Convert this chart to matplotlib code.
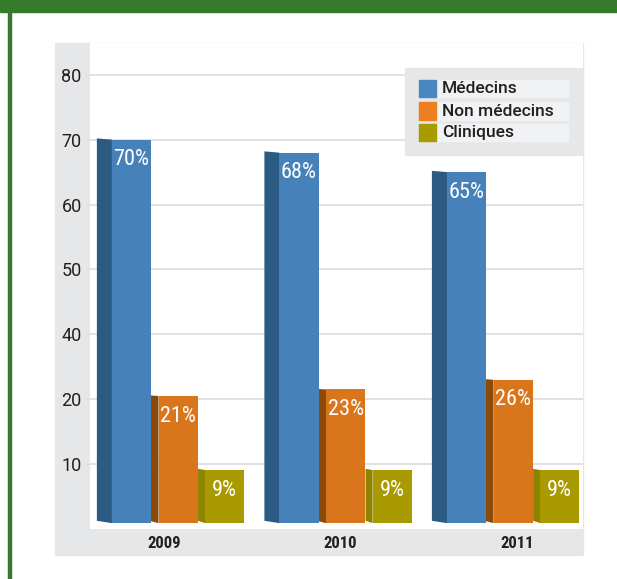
import numpy as np
import matplotlib
matplotlib.use("Agg")
import matplotlib.pyplot as plt
from matplotlib.patches import Rectangle, Polygon

years = ["2009", "2010", "2011"]
series = ["Médecins", "Non médecins", "Cliniques"]
medecins = [70, 68, 65]
non_medecins = [21, 23, 26]
cliniques = [9, 9, 9]
tick_values = [10, 20, 40, 50, 60, 70, 80]

front_colors = ["#4682b9", "#d9761c", "#a89a00"]
side_colors = ["#2b5b83", "#8c4a08", "#8f8400"]
legend_colors = ["#4a87c1", "#ec7f1f", "#a89b00"]
text_dark = "#231f20"
panel_gray = "#e6e7e9"
green = "#367a2c"

W, H = 617, 579
fig = plt.figure(figsize=(W / 100, H / 100), dpi=100)
fig.patch.set_facecolor("white")


def fx(px):
    return px / W


def fy(py):
    return 1 - py / H


# page decorations: green header and left rule, grey panel (behind the axes)
fig.patches.append(Rectangle((0, fy(12)), 1, 12 / H, transform=fig.transFigure,
                             color=green, zorder=-10))
fig.patches.append(Rectangle((fx(8), 0), 3 / W, fy(12), transform=fig.transFigure,
                             color=green, zorder=-10))
fig.patches.append(Rectangle((fx(55), fy(555)), (583 - 55) / W, (555 - 43) / H,
                             transform=fig.transFigure, color=panel_gray, zorder=-10))

ax = fig.add_axes([fx(90), fy(529), (583 - 90) / W, (529 - 43) / H])
ax.set_facecolor("white")

# the chart's own axis is uneven (no 30), so use a piecewise scale through the ticks
knot_vals = [-20, 0, 10, 20, 40, 50, 60, 70, 80, 100]
knot_pos = [-2.91, -0.91, 0, 1, 2, 3, 4, 5, 6, 8]


def fwd(v):
    return np.interp(v, knot_vals, knot_pos)


def inv(p):
    return np.interp(p, knot_pos, knot_vals)


ax.set_yscale("function", functions=(fwd, inv))
ax.set_ylim(-0.9, 84.9)
ax.set_xlim(-0.131, 2.812)

narrow = ["Roboto Condensed", "Roboto", "DejaVu Sans"]

ax.set_yticks(tick_values)
ax.set_yticklabels([str(v) for v in tick_values], family=["Roboto", "DejaVu Sans"])
ax.yaxis.grid(True, color="#dcdddf", linewidth=1.2, zorder=0)
ax.set_axisbelow(True)
for s in ax.spines.values():
    s.set_visible(False)
ax.tick_params(axis="y", length=3, color="#dcdddf", pad=3, labelsize=13,
               labelcolor=text_dark)

groups = np.arange(len(years))
step = 0.278
width = 0.234
sides = [0.09, 0.054, 0.042]
all_vals = [medecins, non_medecins, cliniques]

for j, vals in enumerate(all_vals):
    left = groups + j * step
    ax.bar(left, vals, width=width, align="edge", color=front_colors[j],
           linewidth=0, zorder=3)
    for xl, v in zip(left, vals):
        sd = sides[j]
        ax.add_patch(Polygon([(xl - sd, 0.4), (xl - sd, v + 0.2), (xl, v), (xl, 0)],
                             closed=True, color=side_colors[j], linewidth=0, zorder=2))
        ax.annotate(f"{v}%", (xl + width / 2, v), xytext=(0, -7),
                    textcoords="offset points", ha="center", va="top",
                    color="white", fontsize=16, family=narrow, zorder=4)

year_pos = groups * 1.053 + 0.31
ax.set_xticks(year_pos)
ax.set_xticklabels(years, fontsize=12, fontweight="bold", family=narrow,
                   color=text_dark)
ax.tick_params(axis="x", length=0, pad=5)

# legend box drawn by hand to keep the banded rows
fig.patches.append(Rectangle((fx(405), fy(155)), (583 - 405) / W, (155 - 68) / H,
                             transform=fig.transFigure, color=panel_gray, zorder=5))
row_y = [88.5, 111, 132.5]
for name, col, ry in zip(series, legend_colors, row_y):
    fig.patches.append(Rectangle((fx(437), fy(ry + 8.5)), (568 - 437) / W, 17 / H,
                                 transform=fig.transFigure, color="#f1f2f4", zorder=6))
    fig.patches.append(Rectangle((fx(419), fy(ry + 8.5)), 17 / W, 17 / H,
                                 transform=fig.transFigure, color=col, zorder=6))
    fig.text(fx(442), fy(ry), name, fontsize=12.5, fontweight="medium",
             color=text_dark, va="center", ha="left", zorder=7,
             family=["Roboto", "DejaVu Sans"])

fig.savefig("out.png", dpi=100)
